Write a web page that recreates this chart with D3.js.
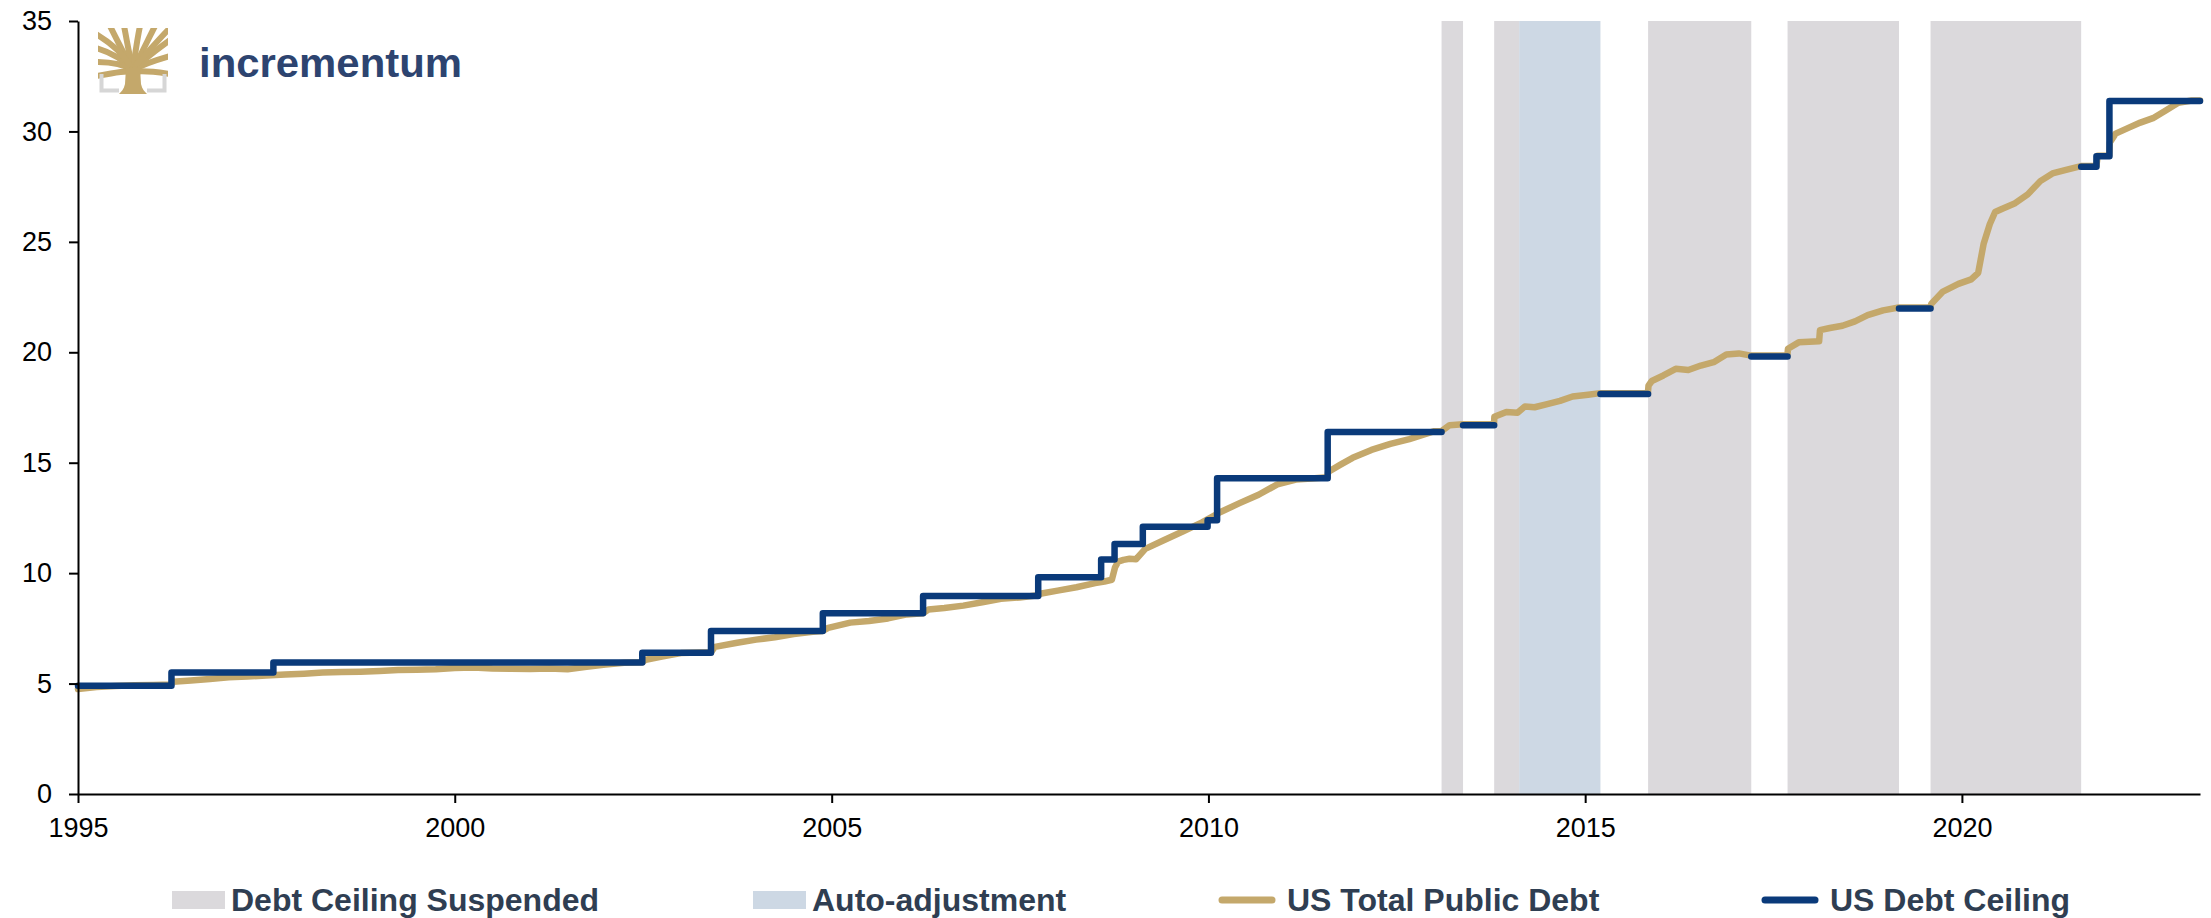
<!DOCTYPE html>
<html>
<head>
<meta charset="utf-8">
<script src="https://cdn.jsdelivr.net/npm/d3@7"></script>
<style>
  body { margin: 0; background: #fff; }
  svg { display: block; }
</style>
</head>
<body>
<svg id="chart" width="2211" height="918"></svg>
<script>
// ---- data (trillions of US dollars) ----
const yearTicks = [1995, 2000, 2005, 2010, 2015, 2020];
const valueTicks = [0, 5, 10, 15, 20, 25, 30, 35];

// periods where the debt ceiling was suspended
const suspendedPeriods = [
  ["2013-02-04", "2013-05-19"],
  ["2013-10-17", "2014-02-15"],
  ["2015-11-02", "2017-03-16"],
  ["2017-09-08", "2019-03-02"],
  ["2019-08-02", "2021-08-01"]
];
// period of automatic adjustment
const autoAdjustPeriods = [
  ["2014-02-15", "2015-03-16"]
];

// statutory debt limit; null marks a break (suspension)
const ceilingDates = [
  "1995-01-01", "1996-03-29", "1997-08-05", "2002-06-28", "2003-05-27",
  "2004-11-19", "2006-03-20", "2007-09-29", "2008-07-30", "2008-10-03",
  "2009-02-17", "2009-12-28", "2010-02-12", "2011-08-02", "2013-02-04",
  "2013-02-05",
  "2013-05-19", "2013-10-17", "2013-10-18",
  "2015-03-16", "2015-11-02", "2015-11-03",
  "2017-03-16", "2017-09-08", "2017-09-09",
  "2019-03-02", "2019-08-02", "2019-08-03",
  "2021-08-01", "2021-10-14", "2021-12-16", "2023-02-28"
];
const ceilingValues = [
  4.9, 5.5, 5.95, 6.4, 7.384,
  8.184, 8.965, 9.815, 10.615, 11.315,
  12.104, 12.394, 14.294, 16.394, 16.394,
  null,
  16.699, 16.699, null,
  18.113, 18.113, null,
  19.809, 19.809, null,
  21.988, 21.988, null,
  28.401, 28.881, 31.381, 31.381
];

// total public debt outstanding
const debtDates = [
  "1995-01-01", "1995-04-01", "1995-07-01", "1995-10-01", "1996-01-01", "1996-03-28",
  "1996-04-05", "1996-07-01", "1996-10-01", "1997-01-01", "1997-04-01", "1997-07-01",
  "1997-10-01", "1998-01-01", "1998-04-01", "1998-07-01", "1998-10-01", "1999-01-01",
  "1999-04-01", "1999-07-01", "1999-10-01", "2000-01-01", "2000-04-01", "2000-07-01",
  "2000-10-01", "2001-01-01", "2001-04-01", "2001-07-01", "2001-10-01", "2002-01-01",
  "2002-04-01", "2002-06-27", "2002-07-15", "2002-10-01", "2003-01-01", "2003-04-01",
  "2003-05-26", "2003-06-15", "2003-10-01", "2004-01-01", "2004-04-01", "2004-07-01",
  "2004-10-01", "2004-11-18", "2004-12-15", "2005-04-01", "2005-07-01", "2005-10-01",
  "2006-01-01", "2006-03-19", "2006-04-15", "2006-07-01", "2006-10-01", "2007-01-01",
  "2007-04-01", "2007-07-01", "2007-09-28", "2007-10-15", "2008-01-01", "2008-04-01",
  "2008-07-01", "2008-08-15", "2008-09-20", "2008-10-05", "2008-10-20", "2008-11-15",
  "2008-12-15", "2009-01-15", "2009-03-01", "2009-06-01", "2009-09-01", "2009-12-01",
  "2010-03-01", "2010-06-01", "2010-09-01", "2010-12-01", "2011-03-01", "2011-05-15",
  "2011-08-01", "2011-08-04", "2011-10-01", "2011-12-01", "2012-03-01", "2012-06-01",
  "2012-09-01", "2012-12-31", "2013-02-04", "2013-03-15", "2013-05-18", "2013-10-16",
  "2013-10-18", "2013-12-15", "2014-02-07", "2014-03-15", "2014-05-01", "2014-07-01",
  "2014-09-01", "2014-11-01", "2015-01-15", "2015-03-15", "2015-11-01", "2015-11-04",
  "2015-11-20", "2016-01-15", "2016-03-15", "2016-05-15", "2016-07-15", "2016-09-15",
  "2016-11-15", "2017-01-15", "2017-03-15", "2017-09-07", "2017-09-10", "2017-11-01",
  "2018-01-15", "2018-02-08", "2018-02-12", "2018-04-01", "2018-06-01", "2018-08-01",
  "2018-10-01", "2018-12-15", "2019-03-01", "2019-08-01", "2019-08-06", "2019-10-01",
  "2019-12-15", "2020-02-15", "2020-03-20", "2020-04-15", "2020-05-15", "2020-06-10",
  "2020-07-15", "2020-09-15", "2020-11-15", "2021-01-15", "2021-03-15", "2021-05-15",
  "2021-07-31", "2021-10-14", "2021-10-20", "2021-12-15", "2021-12-18", "2022-01-15",
  "2022-03-15", "2022-05-15", "2022-07-15", "2022-09-15", "2022-11-15", "2023-01-19",
  "2023-02-28"
];
const debtValues = [
  4.75, 4.84, 4.89, 4.92, 4.94, 4.96,
  5.08, 5.14, 5.21, 5.29, 5.32, 5.36,
  5.41, 5.45, 5.50, 5.52, 5.54, 5.57,
  5.61, 5.63, 5.65, 5.71, 5.73, 5.68,
  5.67, 5.66, 5.68, 5.65, 5.76, 5.86,
  5.94, 5.96, 6.08, 6.22, 6.38, 6.41,
  6.41, 6.66, 6.85, 6.99, 7.10, 7.24,
  7.35, 7.38, 7.52, 7.76, 7.83, 7.95,
  8.13, 8.18, 8.35, 8.42, 8.53, 8.68,
  8.84, 8.90, 9.00, 9.08, 9.21, 9.36,
  9.55, 9.62, 9.70, 10.25, 10.52, 10.60,
  10.65, 10.63, 11.10, 11.50, 11.90, 12.30,
  12.77, 13.17, 13.55, 14.02, 14.24, 14.29,
  14.34, 14.58, 14.90, 15.22, 15.58, 15.85,
  16.07, 16.43, 16.43, 16.70, 16.74, 16.75,
  17.08, 17.30, 17.26, 17.55, 17.51, 17.65,
  17.80, 18.00, 18.08, 18.15, 18.15, 18.49,
  18.70, 18.95, 19.25, 19.20, 19.40, 19.55,
  19.90, 19.95, 19.85, 19.85, 20.16, 20.45,
  20.49, 20.50, 21.00, 21.10, 21.20, 21.40,
  21.68, 21.90, 22.03, 22.03, 22.20, 22.75,
  23.10, 23.30, 23.60, 24.90, 25.80, 26.35,
  26.50, 26.75, 27.15, 27.75, 28.10, 28.25,
  28.43, 28.43, 28.90, 28.90, 29.50, 29.90,
  30.15, 30.40, 30.60, 30.95, 31.30, 31.40,
  31.40
];

// ---- layout ----
const parse = d3.timeParse("%Y-%m-%d");
const colors = {
  suspended: "#dbd9dc",
  auto: "#cdd8e4",
  debt: "#c4a86b",
  ceiling: "#0a3a7a",
  legendText: "#2f3e52",
  brand: "#2d4470"
};

const svg = d3.select("#chart");
const x = d3.scaleTime()
  .domain([parse("1995-01-01"), parse("2023-02-28")])
  .range([78, 2200]);
const y = d3.scaleLinear().domain([0, 35]).range([794, 21]);

// shaded periods
const bands = svg.append("g");
bands.selectAll("rect.susp")
  .data(suspendedPeriods)
  .join("rect")
  .attr("class", "susp")
  .attr("x", d => x(parse(d[0])))
  .attr("width", d => x(parse(d[1])) - x(parse(d[0])))
  .attr("y", y(35))
  .attr("height", y(0) - y(35))
  .attr("fill", colors.suspended);
bands.selectAll("rect.auto")
  .data(autoAdjustPeriods)
  .join("rect")
  .attr("class", "auto")
  .attr("x", d => x(parse(d[0])))
  .attr("width", d => x(parse(d[1])) - x(parse(d[0])))
  .attr("y", y(35))
  .attr("height", y(0) - y(35))
  .attr("fill", colors.auto);

// series
const debt = debtDates.map((d, i) => ({ date: parse(d), value: debtValues[i] }));
const ceiling = ceilingDates.map((d, i) => ({ date: parse(d), value: ceilingValues[i] }));

svg.append("path")
  .datum(debt)
  .attr("fill", "none")
  .attr("stroke", colors.debt)
  .attr("stroke-width", 6.5)
  .attr("stroke-linejoin", "round")
  .attr("stroke-linecap", "round")
  .attr("d", d3.line().x(d => x(d.date)).y(d => y(d.value)));

svg.append("path")
  .datum(ceiling)
  .attr("fill", "none")
  .attr("stroke", colors.ceiling)
  .attr("stroke-width", 6.5)
  .attr("stroke-linejoin", "round")
  .attr("stroke-linecap", "round")
  .attr("d", d3.line()
    .defined(d => d.value !== null)
    .curve(d3.curveStepAfter)
    .x(d => x(d.date)).y(d => y(d.value)));

// axes
const font = "'Liberation Sans', Arial, sans-serif";
const xAxis = svg.append("g")
  .attr("transform", `translate(0,${y(0)})`)
  .call(d3.axisBottom(x)
    .tickValues(yearTicks.map(t => new Date(t, 0, 1)))
    .tickFormat(d3.timeFormat("%Y"))
    .tickSize(9)
    .tickSizeOuter(0)
    .tickPadding(15));
const yAxis = svg.append("g")
  .attr("transform", `translate(${x.range()[0]},0)`)
  .call(d3.axisLeft(y)
    .tickValues(valueTicks)
    .tickFormat(d3.format("d"))
    .tickSize(9)
    .tickSizeOuter(0)
    .tickPadding(17));
[xAxis, yAxis].forEach(g => {
  g.select(".domain").attr("stroke", "#000").attr("stroke-width", 2);
  g.selectAll(".tick line").attr("stroke", "#000").attr("stroke-width", 2);
  g.selectAll(".tick text")
    .attr("fill", "#000")
    .style("font-family", font)
    .style("font-size", "27px");
});

// legend
const legendItems = [
  { label: "Debt Ceiling Suspended", kind: "box", color: colors.suspended, x: 172 },
  { label: "Auto-adjustment", kind: "box", color: colors.auto, x: 753 },
  { label: "US Total Public Debt", kind: "line", color: colors.debt, x: 1219 },
  { label: "US Debt Ceiling", kind: "line", color: colors.ceiling, x: 1762 }
];
const legend = svg.append("g");
legendItems.forEach(item => {
  const g = legend.append("g").attr("transform", `translate(${item.x},900)`);
  if (item.kind === "box") {
    g.append("rect").attr("x", 0).attr("y", -9).attr("width", 53).attr("height", 18)
      .attr("fill", item.color);
  } else {
    g.append("line").attr("x1", 3).attr("x2", 53).attr("y1", 0).attr("y2", 0)
      .attr("stroke", item.color).attr("stroke-width", 7).attr("stroke-linecap", "round");
  }
  g.append("text")
    .attr("x", item.kind === "box" ? 59 : 68)
    .attr("y", 11)
    .attr("fill", colors.legendText)
    .style("font-family", font)
    .style("font-weight", "bold")
    .style("font-size", "32px")
    .text(item.label);
});

// brand mark
const logo = svg.append("g").attr("transform", "translate(98,28)");
logo.append("clipPath").attr("id", "logoClip")
  .append("rect").attr("x", 0).attr("y", 0).attr("width", 70).attr("height", 66);
const tree = logo.append("g").attr("clip-path", "url(#logoClip)");
const branches = [
  "M35,42 C26,32 12,24 -2,20",
  "M35,42 C25,36 12,34 -2,34",
  "M34,44 C26,42 14,46 -2,48",
  "M35,42 C28,30 20,14 12,-2",
  "M35,40 C31,28 29,12 26,-2",
  "M35,40 C37,28 39,12 42,-2",
  "M35,42 C41,30 49,14 57,-2",
  "M35,42 C45,32 58,22 72,12",
  "M35,42 C45,36 58,32 72,28",
  "M36,44 C45,42 58,44 72,46",
  "M31,36 C22,22 8,12 -2,6",
  "M39,36 C50,24 62,10 72,0"
];
tree.selectAll("path.br").data(branches).join("path")
  .attr("class", "br")
  .attr("d", d => d)
  .attr("fill", "none")
  .attr("stroke", colors.debt)
  .attr("stroke-width", 6)
  .attr("stroke-linecap", "round");
tree.append("path")
  .attr("d", "M28,40 L42,40 L43,56 C44,61 47,64 49,66 L21,66 C23,64 26,61 27,56 Z")
  .attr("fill", colors.debt);
logo.append("path")
  .attr("d", "M3.5,46 L3.5,62.5 L21,62.5 M66.5,46 L66.5,62.5 L49,62.5")
  .attr("fill", "none")
  .attr("stroke", "#d6d6d6")
  .attr("stroke-width", 4);
svg.append("text")
  .attr("x", 199)
  .attr("y", 77)
  .attr("fill", colors.brand)
  .attr("textLength", 263)
  .attr("lengthAdjust", "spacingAndGlyphs")
  .style("font-family", font)
  .style("font-weight", "bold")
  .style("font-size", "40px")
  .text("incrementum");
</script>
</body>
</html>
